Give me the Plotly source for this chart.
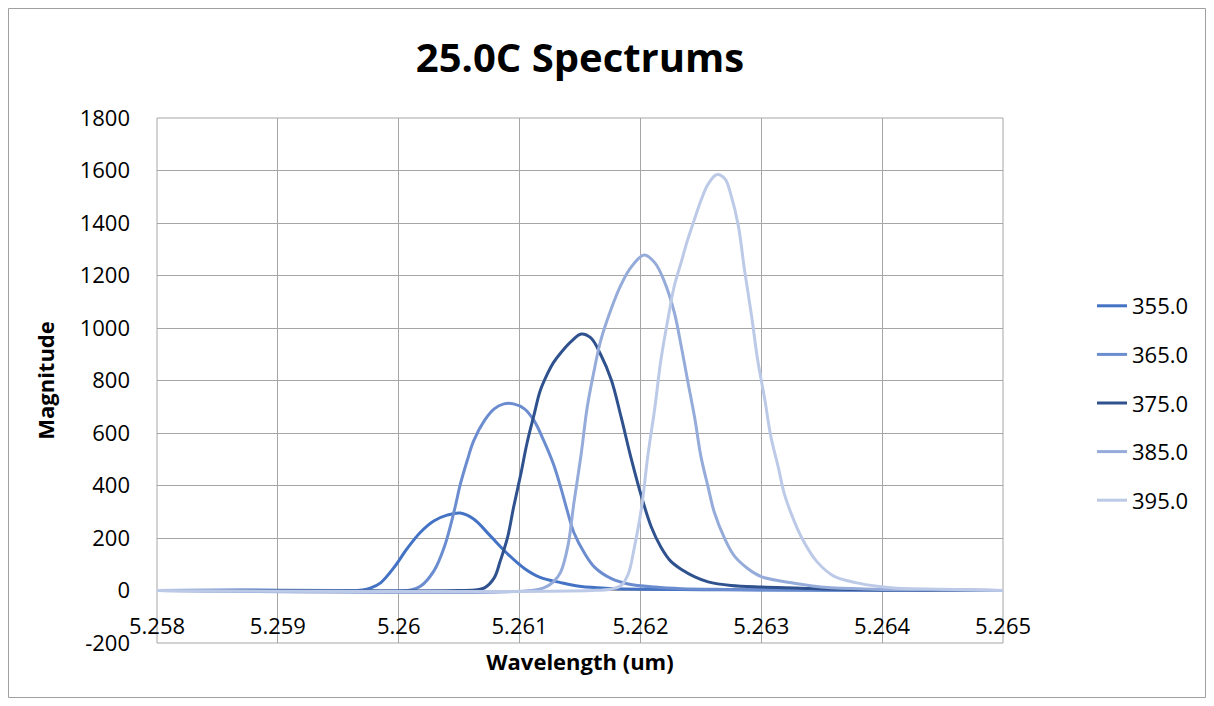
import plotly.graph_objects as go

# ---- data ----
names = ["355.0", "365.0", "375.0", "385.0", "395.0"]
colors = ["#4472C4", "#6B8DD0", "#2F528F", "#95ABDA", "#BCCAE8"]

w355 = [5.258, 5.2587, 5.2595, 5.2597, 5.25977, 5.25985, 5.25996, 5.26007, 5.26018, 5.26029, 5.2604,
        5.26051, 5.26062, 5.26076, 5.2609, 5.26104, 5.26117, 5.26134, 5.26151, 5.26176, 5.262,
        5.2625, 5.263, 5.264, 5.265]
m355 = [0, 2, 0, 2, 10, 29, 87, 160, 222, 265, 287,
        295, 272, 207, 140, 84, 50, 30, 15, 8, 5,
        3, 2, 1, 0]

w365 = [5.258, 5.2595, 5.2601, 5.26018, 5.26029, 5.26038, 5.26046, 5.26051, 5.26057, 5.26062, 5.26071,
        5.26079, 5.26087, 5.26095, 5.26104, 5.26112, 5.2612, 5.26128, 5.26134, 5.2614, 5.26145,
        5.26154, 5.26162, 5.26176, 5.2619, 5.26212, 5.26234, 5.2627, 5.263, 5.264, 5.265]
m365 = [0, 0, 2, 16, 74, 170, 305, 405, 500, 570, 648,
        692, 711, 711, 692, 647, 571, 482, 394, 295, 220,
        140, 89, 45, 25, 13, 7, 4, 3, 1, 0]

w375 = [5.258, 5.2605, 5.26065, 5.26071, 5.26079, 5.26084, 5.2609, 5.26095, 5.26101, 5.26106, 5.26112,
        5.26117, 5.26123, 5.26128, 5.26134, 5.26143, 5.26151, 5.26159, 5.26167, 5.26176, 5.26184,
        5.26192, 5.26201, 5.26209, 5.26217, 5.26225, 5.26234, 5.26245, 5.26256, 5.26275, 5.263,
        5.26333, 5.2635, 5.264, 5.265]
m375 = [0, 0, 3, 10, 48, 112, 201, 316, 443, 558, 670,
        760, 825, 868, 905, 950, 977, 962, 900, 801, 661,
        509, 356, 242, 165, 112, 80, 52, 33, 19, 13,
        9, 6, 2, 0]

w385 = [5.258, 5.2611, 5.2612, 5.26128, 5.26134, 5.2614, 5.26145, 5.26151, 5.26156, 5.26162, 5.26167,
        5.26176, 5.26184, 5.26192, 5.26203, 5.26212, 5.2622, 5.26228, 5.26234, 5.26239, 5.26245,
        5.2625, 5.26256, 5.26261, 5.2627, 5.26278, 5.26289, 5.263, 5.26317, 5.26333, 5.26352,
        5.26393, 5.2645, 5.265]
m385 = [0, 0, 10, 33, 70, 170, 335, 521, 699, 845, 950,
        1075, 1165, 1230, 1278, 1248, 1175, 1060, 925, 801, 655,
        512, 394, 300, 195, 130, 83, 53, 35, 24, 12,
        5, 2, 0]

w395 = [5.258, 5.2616, 5.26176, 5.26184, 5.2619, 5.26195, 5.26201, 5.26206, 5.26212, 5.26217, 5.26223,
        5.26228, 5.26234, 5.26239, 5.26245, 5.2625, 5.26256, 5.26263, 5.2627, 5.26275, 5.26281,
        5.26286, 5.26292, 5.26297, 5.26303, 5.26308, 5.26314, 5.26319, 5.26325, 5.26333, 5.26346,
        5.2636, 5.26379, 5.26396, 5.2641, 5.2645, 5.265]
m395 = [0, 0, 6, 19, 64, 165, 318, 509, 699, 880, 1040,
        1160, 1255, 1335, 1418, 1485, 1548, 1584, 1568, 1505, 1390,
        1225, 1045, 878, 725, 585, 471, 369, 290, 205, 110,
        55, 29, 16, 10, 5, 0]

x_tickvals = [5.258, 5.259, 5.260, 5.261, 5.262, 5.263, 5.264, 5.265]
x_ticktext = ["5.258", "5.259", "5.26", "5.261", "5.262", "5.263", "5.264", "5.265"]
y_tickvals = [-200, 0, 200, 400, 600, 800, 1000, 1200, 1400, 1600, 1800]
y_ticktext = ["-200", "0", "200", "400", "600", "800", "1000", "1200", "1400", "1600", "1800"]

series = [(w355, m355), (w365, m365), (w375, m375), (w385, m385), (w395, m395)]

FONT = "Open Sans"
GRID = "#a6a6a6"

fig = go.Figure()
for name, col, (wx, my) in zip(names, colors, series):
    fig.add_trace(go.Scatter(
        x=wx, y=my, name=name, mode="lines",
        line=dict(color=col, width=3, shape="spline", smoothing=1.0),
        legendgroup=name,
    ))

# figure sits at an 8px page offset (body margin)
W, H = 1198, 690
ml, mr, mt, mb = 149, 203, 110, 55
pw = W - ml - mr
ph = H - mt - mb

def px_x(p):
    return (p - ml) / pw

def px_y(p):
    return (H - mb - p) / ph

fig.update_layout(
    width=W, height=H,
    margin=dict(l=ml, r=mr, t=mt, b=mb),
    paper_bgcolor="white", plot_bgcolor="white",
    font=dict(family=FONT, color="#000000"),
    title=dict(text="<b>25.0C Spectrums</b>", x=0.5, xref="paper", xanchor="center",
               y=1 - 50 / H, yanchor="middle", font=dict(size=40, family=FONT, color="#000")),
    showlegend=True,
    legend=dict(x=px_x(1084), xanchor="left", y=px_y(277), yanchor="top",
                font=dict(size=22, family=FONT, color="#000"),
                tracegroupgap=17, bgcolor="rgba(0,0,0,0)"),
    xaxis=dict(range=[5.258, 5.265], tickmode="array", tickvals=x_tickvals, ticktext=x_ticktext,
               showgrid=True, gridcolor=GRID, gridwidth=1, zeroline=False, showline=False,
               anchor="free", position=0.1, ticks="", ticklabelstandoff=20,
               tickfont=dict(size=22, family=FONT, color="#000"),
               title=dict(text="<b>Wavelength (um)</b>", standoff=16,
                          font=dict(size=22, family=FONT, color="#000"))),
    yaxis=dict(range=[-200, 1800], tickmode="array", tickvals=y_tickvals, ticktext=y_ticktext,
               showgrid=True, gridcolor=GRID, gridwidth=1, zeroline=True, zerolinecolor=GRID,
               zerolinewidth=1, showline=False, ticks="", ticklabelstandoff=26,
               tickfont=dict(size=22, family=FONT, color="#000"),
               title=dict(text="<b>Magnitude</b>", standoff=18,
                          font=dict(size=22, family=FONT, color="#000"))),
    shapes=[
        dict(type="rect", xref="x domain", yref="y domain", x0=0, x1=1, y0=0, y1=1,
             line=dict(color=GRID, width=1), fillcolor="rgba(0,0,0,0)", layer="below"),
        dict(type="rect", xref="paper", yref="paper", x0=px_x(0.5), x1=px_x(W - 0.5),
             y0=px_y(H - 0.5), y1=px_y(0.5), line=dict(color="#a0a0a0", width=1),
             fillcolor="rgba(0,0,0,0)", layer="below"),
    ],
)

fig.write_html("out.html")
